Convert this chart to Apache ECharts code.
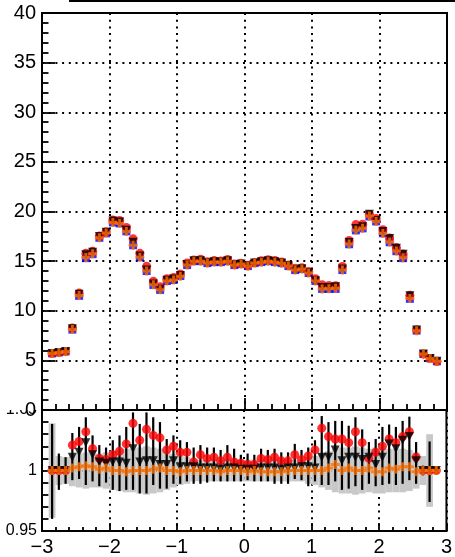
<!DOCTYPE html>
<html><head><meta charset="utf-8">
<script src="https://cdn.jsdelivr.net/npm/echarts@6/dist/echarts.min.js"></script>
<style>html,body{margin:0;padding:0;background:#fff}#c{width:455px;height:557px}</style>
</head><body><div id="c"></div>
<script>
const binCenters = [-2.85,-2.75,-2.65,-2.55,-2.45,-2.35,-2.25,-2.15,-2.05,-1.95,
  -1.85,-1.75,-1.65,-1.55,-1.45,-1.35,-1.25,-1.15,-1.05,-0.95,
  -0.85,-0.75,-0.65,-0.55,-0.45,-0.35,-0.25,-0.15,-0.05,0.05,
  0.15,0.25,0.35,0.45,0.55,0.65,0.75,0.85,0.95,1.05,
  1.15,1.25,1.35,1.45,1.55,1.65,1.75,1.85,1.95,2.05,
  2.15,2.25,2.35,2.45,2.55,2.65,2.75,2.85];
const binWidth = 0.1;
const blueValues = [5.7,5.8,5.9,8.1,11.5,15.3,15.7,17.35,17.8,18.9,
  18.8,18.0,16.6,15.4,14.0,12.6,12.1,13.0,13.1,13.5,
  14.6,15.0,15.0,14.8,14.9,14.9,15.0,14.6,14.7,14.5,
  14.8,14.9,15.0,14.9,14.8,14.5,14.1,14.2,13.8,13.0,
  12.2,12.2,12.2,14.1,16.7,18.1,18.3,19.5,19.0,17.8,
  16.9,16.0,15.3,11.2,8.0,5.64,5.2,4.9];
const redRatio = [1.000,1.000,1.000,1.021,1.024,1.032,1.018,1.010,1.009,1.013,
  1.016,1.022,1.039,1.025,1.034,1.029,1.027,1.017,1.020,1.015,
  1.015,1.007,1.013,1.010,1.011,1.008,1.011,1.007,1.006,1.005,
  1.005,1.010,1.009,1.011,1.008,1.008,1.013,1.009,1.012,1.017,
  1.035,1.028,1.026,1.026,1.023,1.032,1.023,1.010,1.015,1.020,
  1.026,1.023,1.028,1.032,1.011,1.000,1.000,1.000];
const blackRatio = [1.000,1.000,1.000,1.011,1.015,1.023,1.013,1.007,1.006,1.007,
  1.007,1.006,1.018,1.007,1.008,1.008,1.005,1.005,1.008,1.003,
  1.003,1.003,1.002,1.002,1.002,1.001,1.002,1.002,1.001,1.001,
  1.001,1.002,1.002,1.002,1.001,1.002,1.002,1.003,1.003,1.002,
  1.011,1.011,1.017,1.008,1.011,1.011,1.009,1.011,1.005,1.011,
  1.022,1.018,1.025,1.028,1.008,1.000,1.000,1.000];
const orangeRatio = [1.000,1.000,1.000,1.002,1.003,1.004,1.003,1.001,1.002,1.000,
  1.000,0.999,1.000,1.000,1.000,1.001,1.002,1.000,1.000,0.999,
  1.000,1.000,1.000,1.000,1.000,0.999,1.000,1.000,1.000,0.999,
  1.000,0.999,0.999,0.999,0.999,1.000,1.000,1.000,1.000,1.000,
  1.000,1.002,1.005,1.000,1.002,1.000,1.000,1.002,0.999,0.999,
  1.002,1.001,1.003,1.003,0.999,1.000,1.000,1.000];
const blackErrLow = [0.960,0.984,0.989,0.992,0.993,0.988,0.991,0.987,0.990,0.984,
  0.983,0.984,0.984,0.981,0.981,0.988,0.985,0.985,0.989,0.989,
  0.991,0.989,0.989,0.990,0.991,0.991,0.991,0.991,0.991,0.992,
  0.991,0.991,0.991,0.989,0.989,0.989,0.993,0.992,0.987,0.991,
  0.988,0.988,0.991,0.984,0.985,0.987,0.984,0.989,0.987,0.988,
  0.989,0.988,0.989,0.992,0.989,0.996,0.974,0.997];
const blackErrHigh = [1.0385,1.014,1.011,1.031,1.036,1.044,1.029,1.021,1.019,1.025,
  1.029,1.036,1.048,1.0385,1.048,1.044,1.040,1.026,1.029,1.025,
  1.0235,1.019,1.021,1.019,1.019,1.017,1.021,1.018,1.013,1.014,
  1.013,1.018,1.017,1.018,1.015,1.015,1.022,1.017,1.019,1.025,
  1.045,1.040,1.041,1.041,1.037,1.044,1.034,1.0235,1.026,1.036,
  1.038,1.036,1.041,1.0445,1.0235,1.004,1.024,1.003];
const bandHalfWidth = [0.039,0.012,0.011,0.013,0.014,0.015,0.014,0.014,0.015,0.016,
  0.017,0.018,0.018,0.019,0.020,0.019,0.018,0.016,0.014,0.012,
  0.011,0.009,0.009,0.009,0.009,0.009,0.009,0.009,0.009,0.009,
  0.009,0.009,0.009,0.009,0.009,0.009,0.009,0.009,0.011,0.012,
  0.014,0.016,0.018,0.019,0.019,0.020,0.019,0.018,0.019,0.019,
  0.018,0.018,0.018,0.017,0.015,0.012,0.030,0.000];
const xTickLabels = ['\u22123','\u22122','\u22121','0','1','2','3'];
const topYTickLabels = ['0','5','10','15','20','25','30','35','40'];
const ratioYTickLabels = ['0.95','1','1.05'];

const FONT = "'Liberation Sans', Arial, Helvetica, sans-serif";
const chart = echarts.init(document.getElementById('c'), null, {renderer: 'canvas'});
const dotted = {color: '#000', width: 2, type: [2, 4.7]};
const crossPath = 'path://M1,0 L2,0 L2,1 L3,1 L3,2 L2,2 L2,3 L1,3 L1,2 L0,2 L0,1 L1,1 Z';
const xOf = (v) => Math.round(v + 3);

const topData = (r) => binCenters.map((x, i) => [x, blueValues[i] * r[i]]);
const ratioData = (r) => binCenters.map((x, i) => [x, r[i]]);

const markers = {
  blue: {symbol: 'rect', symbolSize: 8, itemStyle: {color: '#0000ff'}},
  red: {symbol: 'circle', symbolSize: 9, itemStyle: {color: '#ff0000'}},
  black: {symbol: 'triangle', symbolRotate: 180, symbolSize: 9, itemStyle: {color: '#000000'}},
  orange: {symbol: crossPath, symbolSize: 9, itemStyle: {color: '#ff7000'}}
};
function sc(name, gi, data, m, z) {
  return Object.assign({type: 'scatter', name, xAxisIndex: gi, yAxisIndex: gi, data, z, silent: true}, m);
}
const tickStyle = {color: '#000', width: 1.8};

const option = {
  animation: false,
  backgroundColor: '#fff',
  textStyle: {fontFamily: FONT},
  grid: [
    {left: 42, right: 8, top: 13, height: 397, show: true, borderColor: '#000', borderWidth: 2, backgroundColor: 'transparent'},
    {left: 42, right: 8, top: 410, height: 123, show: true, borderColor: '#000', borderWidth: 2, backgroundColor: 'transparent'}
  ],
  xAxis: [
    {type: 'value', gridIndex: 0, min: -3, max: 3, interval: 1, position: 'bottom',
      axisLine: {onZero: false, lineStyle: {color: '#000', width: 2}},
      axisTick: {show: true, inside: true, length: 12, lineStyle: tickStyle},
      minorTick: {show: true, splitNumber: 5, length: 6, lineStyle: tickStyle},
      axisLabel: {show: false},
      splitLine: {show: true, lineStyle: dotted}},
    {type: 'value', gridIndex: 1, min: -3, max: 3, interval: 1, position: 'bottom',
      axisLine: {onZero: false, lineStyle: {color: '#000', width: 2}},
      axisTick: {show: true, inside: true, length: 8, lineStyle: tickStyle},
      minorTick: {show: true, splitNumber: 5, length: 4, lineStyle: tickStyle},
      axisLabel: {show: true, fontSize: 20, color: '#000', fontFamily: FONT, margin: 6,
        showMinLabel: true, showMaxLabel: true,
        formatter: (v) => xTickLabels[xOf(v)]},
      splitLine: {show: true, lineStyle: dotted}}
  ],
  yAxis: [
    {type: 'value', gridIndex: 0, min: 0, max: 40, interval: 5, z: 1.5, position: 'left',
      axisLine: {show: true, onZero: false, lineStyle: {color: '#000', width: 2}},
      axisTick: {show: true, inside: true, length: 13, lineStyle: tickStyle},
      minorTick: {show: true, splitNumber: 5, length: 6.5, lineStyle: tickStyle},
      axisLabel: {show: true, fontSize: 20, color: '#000', fontFamily: FONT, margin: 6,
        showMinLabel: true, showMaxLabel: true,
        formatter: (v) => topYTickLabels[Math.round(v / 5)]},
      splitLine: {show: true, lineStyle: dotted}},
    {type: 'value', gridIndex: 1, min: 0.95, max: 1.05, interval: 0.05, z: 0, position: 'left',
      axisLine: {show: true, onZero: false, lineStyle: {color: '#000', width: 2}},
      axisTick: {show: true, inside: true, length: 13, lineStyle: tickStyle},
      minorTick: {show: true, splitNumber: 5, length: 6.5, lineStyle: tickStyle},
      axisLabel: {show: true, fontSize: 16, color: '#000', fontFamily: FONT, margin: 5,
        showMinLabel: true, showMaxLabel: true,
        formatter: (v) => ratioYTickLabels[Math.round((v - 0.95) / 0.05)]},
      splitLine: {show: true, lineStyle: dotted}}
  ],
  graphic: [
    {type: 'line', shape: {x1: 69, y1: 1, x2: 455, y2: 1}, style: {stroke: '#000', lineWidth: 2}, z: 3},
    {type: 'rect', shape: {x: 0, y: 392, width: 40, height: 18}, style: {fill: '#fff'}, z: 1}
  ],
  series: [
    sc('blue', 0, topData(blueValues.map(() => 1)), markers.blue, 2),
    sc('red', 0, topData(redRatio), markers.red, 3),
    sc('black', 0, topData(blackRatio), markers.black, 4),
    sc('orange', 0, topData(orangeRatio), markers.orange, 5),
    {type: 'custom', name: 'band', xAxisIndex: 1, yAxisIndex: 1, z: 2, clip: true, silent: true,
      data: binCenters.map((x, i) => [x, bandHalfWidth[i]]),
      encode: {x: 0, y: 1},
      renderItem: (params, api) => {
        const x = api.value(0), h = api.value(1);
        const p1 = api.coord([x - binWidth / 2, 1 + h]);
        const p2 = api.coord([x + binWidth / 2, 1 - h]);
        return {type: 'rect', shape: {x: p1[0], y: p1[1], width: p2[0] - p1[0], height: p2[1] - p1[1]},
          style: {fill: '#c8c8c8'}};
      }},
    {type: 'custom', name: 'errors', xAxisIndex: 1, yAxisIndex: 1, z: 3, clip: true, silent: true,
      data: binCenters.map((x, i) => [x, blackErrLow[i], blackErrHigh[i]]),
      encode: {x: 0, y: [1, 2]},
      renderItem: (params, api) => {
        const x = api.value(0);
        const a = api.coord([x, api.value(1)]);
        const b = api.coord([x, api.value(2)]);
        return {type: 'line', shape: {x1: a[0], y1: a[1], x2: b[0], y2: b[1]},
          style: {stroke: '#000', lineWidth: 2.2}};
      }},
    sc('red ratio', 1, ratioData(redRatio), markers.red, 4),
    sc('black ratio', 1, ratioData(blackRatio), markers.black, 5),
    sc('orange ratio', 1, ratioData(orangeRatio), markers.orange, 6)
  ]
};
chart.setOption(option);
</script></body></html>
